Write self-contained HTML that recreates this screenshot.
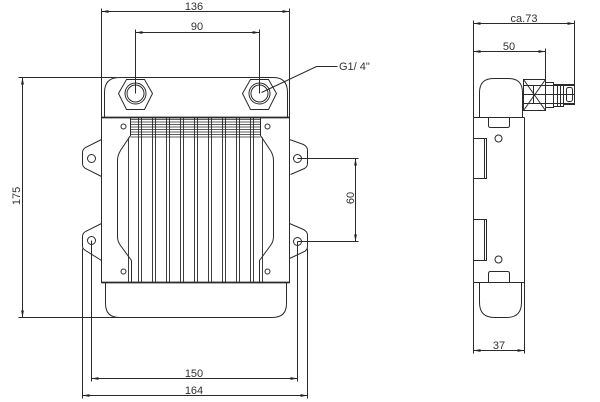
<!DOCTYPE html>
<html><head><meta charset="utf-8"><style>
html,body{margin:0;padding:0;background:#fff;}
svg{display:block;}
text{font-family:"Liberation Sans",sans-serif;font-size:11px;fill:#333;}
</style></head><body>
<svg width="600" height="402" viewBox="0 0 600 402" xmlns="http://www.w3.org/2000/svg">
<defs>
<marker id="a" viewBox="0 0 8 4" refX="8" refY="2" markerWidth="7" markerHeight="4" markerUnits="userSpaceOnUse" orient="auto-start-reverse"><path d="M0,0.4 L8,2 L0,3.6z" fill="#222"/></marker>
</defs>
<g transform="translate(0.5,0.5)" fill="none" stroke="#2a2a2a" stroke-width="1">
<!-- ===== FRONT VIEW ===== -->
<!-- dimension 136 -->
<line x1="101" y1="8" x2="101" y2="117"/>
<line x1="289" y1="8" x2="289" y2="117"/>
<line x1="101" y1="11" x2="289" y2="11" marker-start="url(#a)" marker-end="url(#a)"/>
<!-- dimension 90 -->
<line x1="135" y1="29" x2="135" y2="93"/>
<line x1="259" y1="29" x2="259" y2="93"/>
<line x1="135" y1="32" x2="259" y2="32" marker-start="url(#a)" marker-end="url(#a)"/>
<!-- dimension 175 -->
<line x1="18" y1="77" x2="116" y2="77"/>
<line x1="18" y1="317" x2="119" y2="317"/>
<line x1="22" y1="77" x2="22" y2="317" marker-start="url(#a)" marker-end="url(#a)"/>
<!-- header -->
<path d="M104,117 V92 Q104,77 119,77 H273 Q287,77 287,92 V117"/>
<!-- nuts -->
<polygon points="118,93 126,79 144,79 152,93 144,109 126,109"/>
<circle cx="135" cy="93" r="10.5"/>
<circle cx="135" cy="93" r="8.5"/>
<polygon points="242,93 250,79 268,79 276,93 268,109 250,109"/>
<circle cx="259" cy="93" r="10.5"/>
<circle cx="259" cy="93" r="8.5"/>
<!-- leader G1/4 -->
<polyline points="261,92 316,66 337,66"/>
<!-- plate -->
<rect x="101" y="117" width="188" height="165"/>
<line x1="101" y1="117" x2="289" y2="117" stroke-width="1.8"/>
<line x1="101" y1="282" x2="289" y2="282" stroke-width="1.8"/>
<!-- tray -->
<path d="M105,282 V303 Q105,317 119,317 H272 Q286,317 286,303 V282"/>
<!-- tabs -->
<path d="M101,139 L85,147 Q82,149 82,152 V163 Q82,166 85,168 L101,176"/>
<path d="M101,223 L85,231 Q82,233 82,236 V246 Q82,248 85,250 L101,260"/>
<path d="M289,139 L303,144 Q307,146 307,150 V163 Q307,166 304,168 L290,174"/>
<path d="M289,223 L303,229 Q307,231 307,235 V246 Q307,249 304,251 L289,258"/>
<circle cx="91" cy="158" r="4"/>
<circle cx="91" cy="240" r="4"/>
<circle cx="297" cy="158" r="4"/>
<circle cx="297" cy="241" r="4"/>
<!-- inner brackets -->
<path d="M130,117 V135 L120,150 Q117,155 117,160 V236 Q117,241 120,245 L131,260 V282"/>
<path d="M260,117 V135 L270,150 Q273,155 273,160 V236 Q273,241 270,245 L259,260 V282"/>
<circle cx="123" cy="126" r="2.5"/>
<circle cx="267" cy="126" r="2.5"/>
<circle cx="123" cy="271" r="2.5"/>
<circle cx="267" cy="271" r="2.5"/>
<!-- fins -->
<g stroke-width="0.9">
<line x1="128" y1="137" x2="128" y2="282"/>
<line x1="262" y1="137" x2="262" y2="282"/>
<line x1="138" y1="117" x2="138" y2="282"/><line x1="141" y1="117" x2="141" y2="282"/>
<line x1="152" y1="117" x2="152" y2="282"/><line x1="155" y1="117" x2="155" y2="282"/>
<line x1="166" y1="117" x2="166" y2="282"/><line x1="169" y1="117" x2="169" y2="282"/>
<line x1="180" y1="117" x2="180" y2="282"/><line x1="183" y1="117" x2="183" y2="282"/>
<line x1="194" y1="117" x2="194" y2="282"/><line x1="197" y1="117" x2="197" y2="282"/>
<line x1="208" y1="117" x2="208" y2="282"/><line x1="211" y1="117" x2="211" y2="282"/>
<line x1="222" y1="117" x2="222" y2="282"/><line x1="225" y1="117" x2="225" y2="282"/>
<line x1="236" y1="117" x2="236" y2="282"/><line x1="239" y1="117" x2="239" y2="282"/>
<line x1="250" y1="117" x2="250" y2="282"/><line x1="253" y1="117" x2="253" y2="282"/>
</g>
<g stroke-width="0.8">
<line x1="130" y1="119" x2="260" y2="119"/>
<line x1="130" y1="121.5" x2="260" y2="121.5"/>
<line x1="130" y1="124" x2="260" y2="124"/>
<line x1="130" y1="126.5" x2="260" y2="126.5"/>
<line x1="130" y1="129" x2="260" y2="129"/>
<line x1="130" y1="131.5" x2="260" y2="131.5"/>
<line x1="130" y1="134" x2="260" y2="134"/>
<line x1="130" y1="136.5" x2="260" y2="136.5"/>
</g>
<!-- dimension 60 -->
<line x1="297" y1="158" x2="358" y2="158"/>
<line x1="297" y1="241" x2="358" y2="241"/>
<line x1="355" y1="158" x2="355" y2="241" marker-start="url(#a)" marker-end="url(#a)"/>
<!-- dimension 150 -->
<line x1="91" y1="240" x2="91" y2="381"/>
<line x1="297" y1="241" x2="297" y2="381"/>
<line x1="91" y1="378" x2="297" y2="378" marker-start="url(#a)" marker-end="url(#a)"/>
<!-- dimension 164 -->
<line x1="82" y1="248" x2="82" y2="398"/>
<line x1="307" y1="248" x2="307" y2="398"/>
<line x1="82" y1="395" x2="307" y2="395" marker-start="url(#a)" marker-end="url(#a)"/>

<!-- ===== SIDE VIEW ===== -->
<line x1="473" y1="20" x2="473" y2="353"/>
<line x1="524" y1="117" x2="524" y2="353"/>
<line x1="574" y1="20" x2="574" y2="84"/>
<line x1="545" y1="48" x2="545" y2="79"/>
<line x1="473" y1="23" x2="574" y2="23" marker-start="url(#a)" marker-end="url(#a)"/>
<line x1="473" y1="51" x2="545" y2="51" marker-start="url(#a)" marker-end="url(#a)"/>
<line x1="473" y1="350" x2="524" y2="350" marker-start="url(#a)" marker-end="url(#a)"/>
<!-- body -->
<line x1="473" y1="117" x2="524" y2="117"/>
<line x1="473" y1="282" x2="524" y2="282"/>
<path d="M479,117 V92 Q479,78 493,78 H508 Q522,78 522,92 V117"/>
<path d="M488,117 V125 Q488,127 490,127 H507 Q509,127 509,125 V117"/>
<circle cx="498" cy="138" r="3.5"/>
<rect x="473" y="138" width="13" height="40"/>
<line x1="484" y1="138" x2="484" y2="178"/>
<rect x="473" y="219" width="13" height="41"/>
<line x1="484" y1="219" x2="484" y2="260"/>
<circle cx="498" cy="259" r="3.5"/>
<path d="M488,282 V273 Q488,271 490,271 H507 Q509,271 509,273 V282"/>
<path d="M479,282 V302 Q479,317 494,317 H506 Q521,317 521,302 V282"/>
<!-- fitting -->
<rect x="523" y="79" width="22" height="31"/>
<line x1="523" y1="79" x2="545" y2="110"/>
<line x1="523" y1="110" x2="545" y2="79"/>
<line x1="533" y1="85" x2="533" y2="103"/>
<line x1="523" y1="85" x2="574" y2="85"/>
<line x1="523" y1="94" x2="574" y2="94"/>
<line x1="523" y1="103" x2="574" y2="103"/>
<rect x="545" y="82" width="8" height="25"/>
<rect x="553" y="84" width="10" height="22"/>
<line x1="557" y1="84" x2="557" y2="106"/>
<line x1="560" y1="84" x2="560" y2="106"/>
<rect x="563" y="84" width="11" height="20"/>
<rect x="566" y="87" width="6" height="14" rx="2"/>
</g>
<!-- texts -->
<text x="194" y="10" text-anchor="middle">136</text>
<text x="197" y="30" text-anchor="middle">90</text>
<text x="339" y="70" font-size="10">G1/ 4"</text>
<text transform="translate(20,196) rotate(-90)" text-anchor="middle">175</text>
<text transform="translate(354,198) rotate(-90)" text-anchor="middle">60</text>
<text x="194" y="377" text-anchor="middle">150</text>
<text x="194" y="394" text-anchor="middle">164</text>
<text x="524" y="22" text-anchor="middle">ca.73</text>
<text x="509" y="50" text-anchor="middle">50</text>
<text x="499" y="349" text-anchor="middle">37</text>
</svg>
</body></html>
